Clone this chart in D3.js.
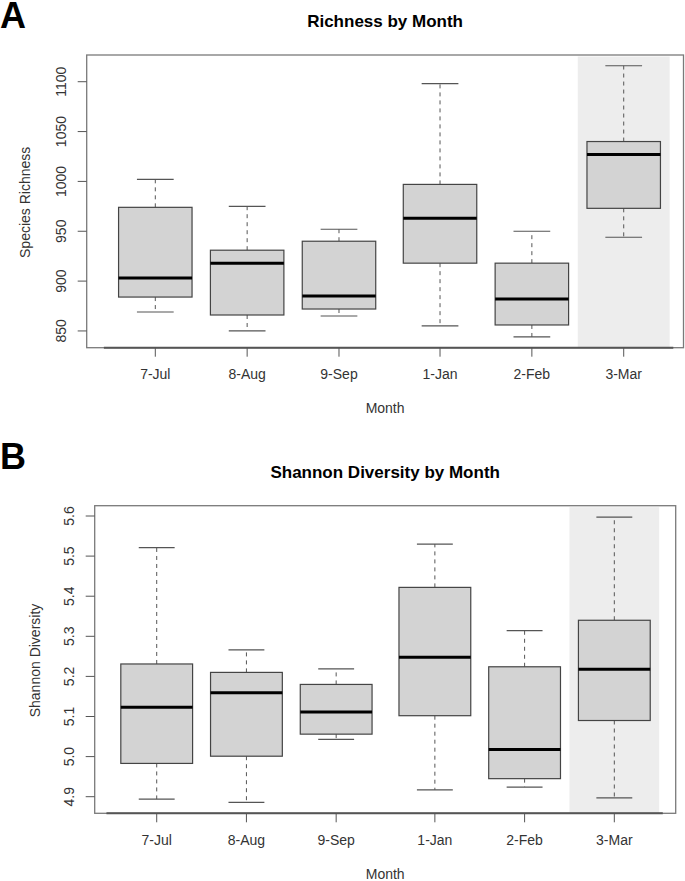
<!DOCTYPE html>
<html>
<head>
<meta charset="utf-8">
<script src="https://cdn.jsdelivr.net/npm/d3@7"></script>
<style>
  body { margin: 0; background: #fff; }
  text { font-family: "Liberation Sans", Arial, sans-serif; }
</style>
</head>
<body>
<svg id="chart" width="685" height="881"></svg>
<script>
// months and their box positions (R boxplot "at")
const months = ["7-Jul", "8-Aug", "9-Sep", "1-Jan", "2-Feb", "3-Mar"];
const monthAt = [1, 2, 3, 4.1, 5.1, 6.1];
const highlightMonth = "3-Mar";

// species richness five-number summaries
const richLow  = [869, 850, 865, 855, 844, 944];
const richQ1   = [884, 866, 872, 918, 856, 973];
const richMed  = [903, 918, 885, 963, 882, 1027];
const richQ3   = [974, 931, 940, 997, 918, 1040];
const richHigh = [1002, 975, 952, 1098, 950, 1116];
const richTicks = [850, 900, 950, 1000, 1050, 1100];

// shannon diversity five-number summaries
const shanLow  = [4.894, 4.886, 5.043, 4.917, 4.924, 4.897];
const shanQ1   = [4.983, 5.001, 5.056, 5.102, 4.945, 5.090];
const shanMed  = [5.123, 5.159, 5.111, 5.248, 5.018, 5.218];
const shanQ3   = [5.231, 5.210, 5.180, 5.422, 5.224, 5.340];
const shanHigh = [5.521, 5.266, 5.219, 5.530, 5.314, 5.597];
const shanTicks = [4.9, 5.0, 5.1, 5.2, 5.3, 5.4, 5.5, 5.6];

const svg = d3.select('#chart');

function toRows(low, q1, med, q3, high) {
    return months.map(function (m, i) {
        return { month: m, at: monthAt[i], low: low[i], q1: q1[i], med: med[i], q3: q3[i], high: high[i] };
    });
}

const panels = [
    {
        letter: "A", letterY: 28, title: "Richness by Month", titleY: 27,
        ylab: "Species Richness", ylabX: 30, tickLabX: 66,
        left: 86.7, right: 683.5, top: 55, bottom: 347.7,
        xDomain: [0.253, 6.751], yDomain: [833.2, 1126.8],
        ticks: richTicks, fmt: d3.format("d"),
        rows: toRows(richLow, richQ1, richMed, richQ3, richHigh),
        xLabY: 379, monthY: 413
    },
    {
        letter: "B", letterY: 469, title: "Shannon Diversity by Month", titleY: 478,
        ylab: "Shannon Diversity", ylabX: 40, tickLabX: 74,
        left: 94.7, right: 675.7, top: 505.7, bottom: 813.3,
        xDomain: [0.309, 6.784], yDomain: [4.8586, 5.6257],
        ticks: shanTicks, fmt: d3.format(".1f"),
        rows: toRows(shanLow, shanQ1, shanMed, shanQ3, shanHigh),
        xLabY: 845, monthY: 879
    }
];

panels.forEach(function (p) {
    const x = d3.scaleLinear().domain(p.xDomain).range([p.left, p.right]);
    const y = d3.scaleLinear().domain(p.yDomain).range([p.bottom, p.top]);
    const g = svg.append('g');
    const boxW = x(1.8) - x(1);
    const capW = x(1.2) - x(1);

    // panel letter and title
    svg.append('text')
        .attr('x', 0).attr('y', p.letterY)
        .attr('font-size', 36).attr('font-weight', 'bold')
        .text(p.letter);
    svg.append('text')
        .attr('x', (p.left + p.right) / 2).attr('y', p.titleY)
        .attr('text-anchor', 'middle')
        .attr('font-size', 17).attr('font-weight', 'bold')
        .text(p.title);

    // shaded highlight behind March
    const hl = p.rows.filter(function (d) { return d.month === highlightMonth; });
    g.selectAll('rect.hl').data(hl).enter().append('rect')
        .attr('class', 'hl')
        .attr('x', function (d) { return x(d.at - 0.5); })
        .attr('width', x(1) - x(0))
        .attr('y', p.top + 1.5)
        .attr('height', p.bottom - p.top - 1.5)
        .attr('fill', '#ededed');

    // frame
    g.append('rect')
        .attr('x', p.left).attr('y', p.top)
        .attr('width', p.right - p.left).attr('height', p.bottom - p.top)
        .attr('fill', 'none').attr('stroke', '#7a7a7a').attr('stroke-width', 1.3);

    // bottom axis line
    g.append('line')
        .attr('x1', x(0.44)).attr('x2', x(6.64))
        .attr('y1', p.bottom).attr('y2', p.bottom)
        .attr('stroke', '#555').attr('stroke-width', 2);

    // y axis ticks
    const yt = g.selectAll('g.yt').data(p.ticks).enter().append('g').attr('class', 'yt');
    yt.append('line')
        .attr('x1', p.left - 9).attr('x2', p.left)
        .attr('y1', function (d) { return y(d); }).attr('y2', function (d) { return y(d); })
        .attr('stroke', '#555').attr('stroke-width', 1);
    yt.append('text')
        .attr('transform', function (d) { return 'translate(' + p.tickLabX + ',' + y(d) + ') rotate(-90)'; })
        .attr('text-anchor', 'middle')
        .attr('font-size', 14).attr('fill', '#333')
        .text(function (d) { return p.fmt(d); });

    // x axis ticks
    const xt = g.selectAll('g.xt').data(p.rows).enter().append('g').attr('class', 'xt');
    xt.append('line')
        .attr('x1', function (d) { return x(d.at); }).attr('x2', function (d) { return x(d.at); })
        .attr('y1', p.bottom).attr('y2', p.bottom + 9)
        .attr('stroke', '#555').attr('stroke-width', 1);
    xt.append('text')
        .attr('x', function (d) { return x(d.at); }).attr('y', p.xLabY)
        .attr('text-anchor', 'middle')
        .attr('font-size', 14).attr('fill', '#333')
        .text(function (d) { return d.month; });

    // axis titles
    svg.append('text')
        .attr('x', (p.left + p.right) / 2).attr('y', p.monthY)
        .attr('text-anchor', 'middle').attr('font-size', 14).attr('fill', '#333')
        .text('Month');
    svg.append('text')
        .attr('transform', 'translate(' + p.ylabX + ',' + ((p.top + p.bottom) / 2 + 1) + ') rotate(-90)')
        .attr('text-anchor', 'middle').attr('font-size', 14).attr('fill', '#333')
        .text(p.ylab);

    // boxes
    const box = g.selectAll('g.box').data(p.rows).enter().append('g').attr('class', 'box');
    box.append('line')
        .attr('x1', function (d) { return x(d.at); }).attr('x2', function (d) { return x(d.at); })
        .attr('y1', function (d) { return y(d.q3); }).attr('y2', function (d) { return y(d.high); })
        .attr('stroke', '#555').attr('stroke-dasharray', '4,4');
    box.append('line')
        .attr('x1', function (d) { return x(d.at); }).attr('x2', function (d) { return x(d.at); })
        .attr('y1', function (d) { return y(d.q1); }).attr('y2', function (d) { return y(d.low); })
        .attr('stroke', '#555').attr('stroke-dasharray', '4,4');
    ['low', 'high'].forEach(function (k) {
        box.append('line')
            .attr('x1', function (d) { return x(d.at) - capW; }).attr('x2', function (d) { return x(d.at) + capW; })
            .attr('y1', function (d) { return y(d[k]); }).attr('y2', function (d) { return y(d[k]); })
            .attr('stroke', '#555').attr('stroke-width', 1.2);
    });
    box.append('rect')
        .attr('x', function (d) { return x(d.at) - boxW / 2; })
        .attr('width', boxW)
        .attr('y', function (d) { return y(d.q3); })
        .attr('height', function (d) { return y(d.q1) - y(d.q3); })
        .attr('fill', '#d3d3d3').attr('stroke', '#444').attr('stroke-width', 1.2);
    box.append('line')
        .attr('x1', function (d) { return x(d.at) - boxW / 2; }).attr('x2', function (d) { return x(d.at) + boxW / 2; })
        .attr('y1', function (d) { return y(d.med); }).attr('y2', function (d) { return y(d.med); })
        .attr('stroke', '#000').attr('stroke-width', 3);
});
</script>
</body>
</html>
